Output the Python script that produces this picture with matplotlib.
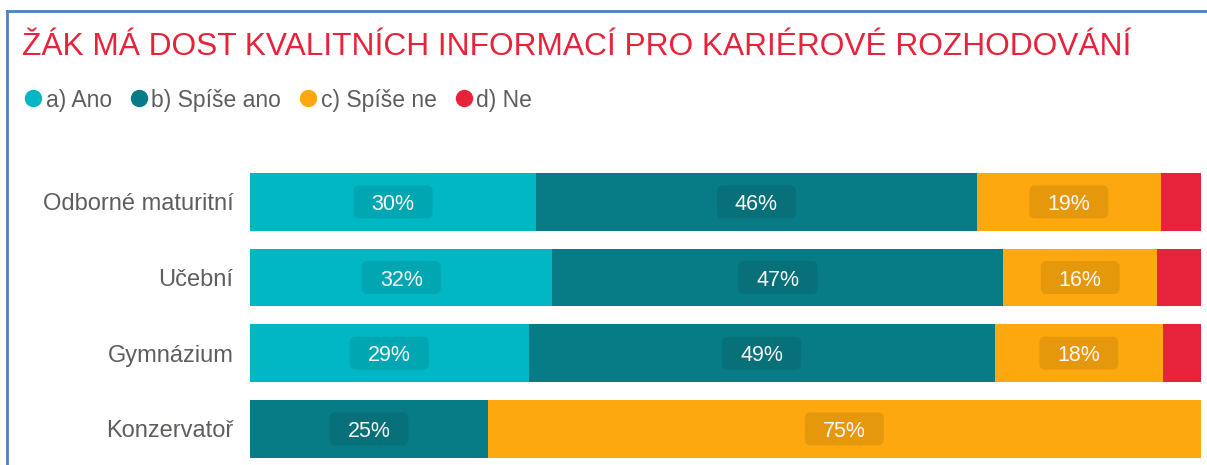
import matplotlib
matplotlib.use("Agg")
import matplotlib.pyplot as plt
import matplotlib.transforms as mtransforms
from matplotlib.patches import FancyBboxPatch
from matplotlib.lines import Line2D
import numpy as np

categories = ["Odborné maturitní", "Učební", "Gymnázium", "Konzervatoř"]
series_names = ["a) Ano", "b) Spíše ano", "c) Spíše ne", "d) Ne"]
ano = [30.1, 31.8, 29.3, 0.0]
spise_ano = [46.3, 47.4, 49.0, 25.0]
spise_ne = [19.4, 16.2, 17.7, 75.0]
ne = [4.2, 4.6, 4.0, 0.0]
series_values = [ano, spise_ano, spise_ne, ne]
colors = ["#00B7C3", "#087C86", "#FDA80F", "#E6233A"]
title = "ŽÁK MÁ DOST KVALITNÍCH INFORMACÍ PRO KARIÉROVÉ ROZHODOVÁNÍ"

W, H = 1207, 465
fig = plt.figure(figsize=(W / 100, H / 100), dpi=100)
plt.rcParams['font.family'] = ['Liberation Sans', 'DejaVu Sans']

# axes placement in pixels
ax_left, ax_right = 250, 1201
ax_top = 164
ax = fig.add_axes([ax_left / W, 0, (ax_right - ax_left) / W, (H - ax_top) / H])

y = np.arange(len(categories))
left = np.zeros(len(categories))
bar_h = 0.766
for name, vals, col in zip(series_names, series_values, colors):
    vals = np.array(vals)
    ax.barh(y, vals, left=left, height=bar_h, color=col, edgecolor="none", label=name)
    for yi, (l, v) in enumerate(zip(left, vals)):
        if v >= 10:
            cx = l + v / 2
            trans = mtransforms.Affine2D() + mtransforms.ScaledTranslation(cx, yi, ax.transData)
            box = FancyBboxPatch((-39.5, -16.5), 79, 33,
                                 boxstyle="round,pad=0,rounding_size=6",
                                 transform=trans, facecolor="black", alpha=0.09,
                                 edgecolor="none", zorder=3)
            ax.add_patch(box)
            ax.text(cx, yi, f"{round(v):.0f}%", ha="center", va="center_baseline",
                    color="#F8F8F8", fontsize=15.5, zorder=4)
    left = left + vals

ax.set_xlim(0, 100)
ax.set_ylim(-0.5 + (H - ax_top) / 75.67, -0.5)
ax.set_yticks(y)
ax.set_yticklabels(categories, fontsize=17, color="#605E5C")
ax.tick_params(axis="y", length=0, pad=12)
ax.set_xticks([])
for s in ax.spines.values():
    s.set_visible(False)

# title
fig.text(22 / W, 1 - 47 / H, title, color="#E6233A", fontsize=22.8, va="center", ha="left")

# legend
handles = [Line2D([], [], marker="o", linestyle="none", markersize=11.5,
                  markerfacecolor=c, markeredgecolor=c) for c in colors]
fig.legend(handles, series_names, loc="center left", bbox_to_anchor=(25 / W, 1 - 100 / H),
           ncol=4, frameon=False, fontsize=16.5, handlelength=0.7, handletextpad=0.2,
           columnspacing=0.83, labelcolor="#605E5C", borderpad=0, borderaxespad=0)

# frame lines
fc = "#4F81BD"
fig.add_artist(Line2D([7 / W, 7 / W], [0, 1 - 11 / H], color=fc, lw=2, transform=fig.transFigure))
fig.add_artist(Line2D([7 / W, 1], [1 - 11 / H, 1 - 11 / H], color=fc, lw=2, transform=fig.transFigure))

fig.savefig("out.png", dpi=100)
